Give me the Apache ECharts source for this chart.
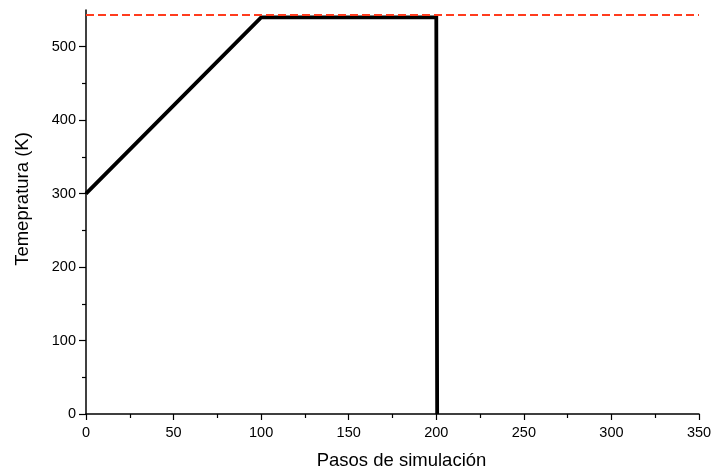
<!DOCTYPE html>
<html><head><meta charset="utf-8">
<script src="https://cdn.jsdelivr.net/npm/echarts@6/dist/echarts.min.js"></script>
<style>html,body{margin:0;padding:0;background:#fff}#c{width:713px;height:472px}</style>
</head><body><div id="c"></div>
<script>
const stepsX = [0, 100, 200, 200.5];
const tempY = [300, 540, 540, 0];
const refTemp = 543;
const xRange = [0, 350];
const yRange = [0, 550];
const yMajorTicks = [0, 100, 200, 300, 400, 500];
const yMinorTicks = [50, 150, 250, 350, 450];
const xTitle = 'Pasos de simulación';
const yTitle = 'Temepratura (K)';

const font = 'Liberation Sans, Arial, sans-serif';
const chart = echarts.init(document.getElementById('c'));
chart.setOption({
  animation: false,
  backgroundColor: '#fff',
  grid: {left: 86, right: 14, top: 10, bottom: 58, containLabel: false, outerBoundsMode: 'none'},
  xAxis: {
    type: 'value', min: xRange[0], max: xRange[1], interval: 50,
    name: xTitle, nameLocation: 'middle', nameGap: 37,
    nameTextStyle: {fontFamily: font, fontSize: 18.5, color: '#000', padding: [0, 0, 0, 18]},
    axisLine: {show: true, lineStyle: {color: '#000', width: 1.5}},
    axisTick: {show: true, length: 6, inside: false, lineStyle: {color: '#000', width: 1.2}},
    minorTick: {show: true, splitNumber: 2, length: 4, lineStyle: {color: '#000', width: 1.2}},
    axisLabel: {fontFamily: font, fontSize: 14.5, color: '#000', margin: 11},
    splitLine: {show: false}
  },
  yAxis: [{
    type: 'value', min: yRange[0], max: yRange[1], interval: 100,
    name: yTitle, nameLocation: 'middle', nameGap: 54, nameRotate: 90,
    nameTextStyle: {fontFamily: font, fontSize: 18.5, color: '#000', padding: [0, 0, 0, 26]},
    axisLine: {show: true, lineStyle: {color: '#000', width: 1.5}},
    axisTick: {show: true, length: 7, customValues: yMajorTicks, lineStyle: {color: '#000', width: 1.2}},
    axisLabel: {fontFamily: font, fontSize: 14.5, color: '#000', margin: 10, customValues: yMajorTicks},
    splitLine: {show: false}
  }, {
    type: 'value', min: yRange[0], max: yRange[1], position: 'left', offset: 0,
    axisLine: {show: false},
    axisTick: {show: true, length: 4, customValues: yMinorTicks, lineStyle: {color: '#000', width: 1.2}},
    axisLabel: {show: false},
    splitLine: {show: false}
  }],
  series: [{
    type: 'line',
    data: stepsX.map((x, i) => [x, tempY[i]]),
    showSymbol: false,
    lineStyle: {color: '#000', width: 3.8, join: 'miter'},
    markLine: {
      silent: true, symbol: 'none',
      label: {show: false},
      lineStyle: {color: '#ff3c1e', type: [8, 4], width: 2},
      data: [{yAxis: refTemp}]
    }
  }]
});
</script>
</body></html>
